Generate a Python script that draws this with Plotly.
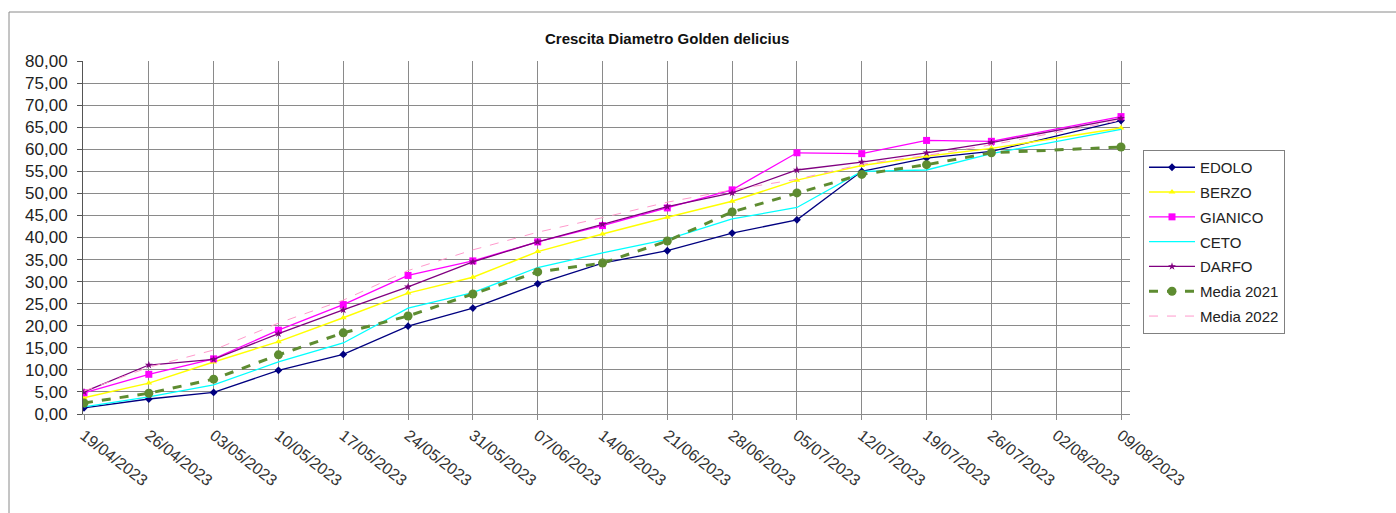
import plotly.graph_objects as go

W, H = 1396, 513

dates = ["19/04/2023", "26/04/2023", "03/05/2023", "10/05/2023", "17/05/2023",
         "24/05/2023", "31/05/2023", "07/06/2023", "14/06/2023", "21/06/2023",
         "28/06/2023", "05/07/2023", "12/07/2023", "19/07/2023", "26/07/2023",
         "02/08/2023", "09/08/2023"]

# Diameter measurements (mm); no readings on 02/08
edolo = [1.4, 3.4, 4.9, 9.9, 13.5, 19.9, 24.0, 29.5, 34.2, 37.0, 41.0, 44.0, 55.0, 58.0, 59.5, None, 66.5]
berzo = [3.7, 7.0, 11.8, 16.4, 21.8, 27.4, 31.0, 36.8, 40.8, 44.6, 48.2, 53.0, 56.3, 58.4, 60.2, None, 64.8]
gianico = [4.8, 9.0, 12.5, 19.0, 24.8, 31.4, 34.7, 39.0, 42.7, 46.7, 50.8, 59.2, 59.0, 62.0, 61.8, None, 67.4]
ceto = [1.6, 3.9, 6.6, 11.8, 16.1, 24.0, 27.5, 33.2, 36.5, 39.6, 44.2, 46.8, 55.0, 55.3, 59.0, None, 64.5]
darfo = [5.0, 11.1, 12.4, 18.2, 23.6, 28.8, 34.5, 39.0, 43.0, 47.0, 50.1, 55.3, 57.1, 59.2, 61.5, None, 67.0]
media_2021 = [2.5, 4.7, 7.9, 13.4, 18.4, 22.2, 27.2, 32.2, 34.2, 39.2, 45.8, 50.1, 54.3, 56.5, 59.2, None, 60.5]
media_2022 = [5.2, 10.6, 14.5, 20.6, 25.8, 32.5, 37.2, 41.2, 44.5, 48.0, 50.8, 53.2, 56.6, 58.6, 61.0, None, 66.6]

# Plot area in pixels
PX_L, PX_R = 83, 1130
PY_T, PY_B = 61, 414

series = [
    dict(name="EDOLO", y=edolo, color="#000080", width=1.3, dash="solid",
         marker=dict(symbol="diamond", size=6)),
    dict(name="BERZO", y=berzo, color="#FFFF00", width=1.5, dash="solid",
         marker=dict(symbol="triangle-up", size=6)),
    dict(name="GIANICO", y=gianico, color="#FF00FF", width=1.3, dash="solid",
         marker=dict(symbol="square", size=7)),
    dict(name="CETO", y=ceto, color="#00FFFF", width=1.3, dash="solid", marker=None),
    dict(name="DARFO", y=darfo, color="#800080", width=1.3, dash="solid",
         marker=dict(symbol="star", size=6)),
    dict(name="Media 2021", y=media_2021, color="#5E8C31", width=3, dash="dash",
         marker=dict(symbol="circle", size=9)),
    dict(name="Media 2022", y=media_2022, color="#FF99CC", width=1, dash="dash", marker=None),
]

fig = go.Figure()
for s in series:
    kw = dict(
        x=dates, y=s["y"], name=s["name"], legendgroup=s["name"],
        connectgaps=True,
        line=dict(color=s["color"], width=s["width"], dash=s["dash"]),
    )
    if s["marker"] is not None:
        kw["mode"] = "lines+markers"
        kw["marker"] = dict(color=s["color"], **s["marker"])
    else:
        kw["mode"] = "lines"
    fig.add_trace(go.Scatter(**kw))

ncat = len(dates)
spacing = (1121 - 84) / (ncat - 1)
x0 = -(84 - PX_L) / spacing
x1 = (ncat - 1) + (PX_R - 1121) / spacing

fig.update_layout(
    width=W, height=H,
    margin=dict(l=0, r=0, t=0, b=0),
    paper_bgcolor="white", plot_bgcolor="white",
    separators=",.",
    font=dict(family="Liberation Sans, Arial, sans-serif", color="#222222"),
    showlegend=True,
    legend=dict(
        x=1143 / W, y=1 - 150 / H, xanchor="left", yanchor="top",
        bordercolor="#808080", borderwidth=1, bgcolor="white",
        font=dict(size=15, color="#222222"),
        tracegroupgap=2.3,
        itemwidth=46,
    ),
    xaxis=dict(
        type="category",
        domain=[PX_L / W, PX_R / W],
        range=[x0, x1],
        tickangle=38,
        tickfont=dict(size=16, color="#333333"),
        showgrid=True, gridcolor="#8a8a8a", gridwidth=1,
        showline=True, linecolor="#8a8a8a", linewidth=1,
        ticks="outside", ticklen=5, tickcolor="#8a8a8a",
        automargin=False, zeroline=False,
    ),
    yaxis=dict(
        domain=[1 - PY_B / H, 1 - PY_T / H],
        range=[0, 80],
        dtick=5, tick0=0,
        tickformat=".2f",
        tickfont=dict(size=17, color="#222222"),
        ticklabelstandoff=6,
        showgrid=True, gridcolor="#8a8a8a", gridwidth=1,
        showline=True, linecolor="#555555", linewidth=1,
        ticks="outside", ticklen=5, tickcolor="#555555",
        automargin=False, zeroline=False,
    ),
    annotations=[
        dict(text="<b>Crescita Diametro Golden delicius</b>",
             x=667 / W, y=1 - 38 / H, xref="paper", yref="paper",
             xanchor="center", yanchor="middle", showarrow=False,
             font=dict(size=15, color="#111111")),
    ],
    shapes=[
        # chart area frame
        dict(type="line", xref="paper", yref="paper",
             x0=9 / W, x1=1.0, y0=1 - 12 / H, y1=1 - 12 / H,
             line=dict(color="#8a8a8a", width=1)),
        dict(type="line", xref="paper", yref="paper",
             x0=9 / W, x1=9 / W, y0=1 - 12 / H, y1=0,
             line=dict(color="#8a8a8a", width=1)),
    ],
)

fig.write_html("out.html")
